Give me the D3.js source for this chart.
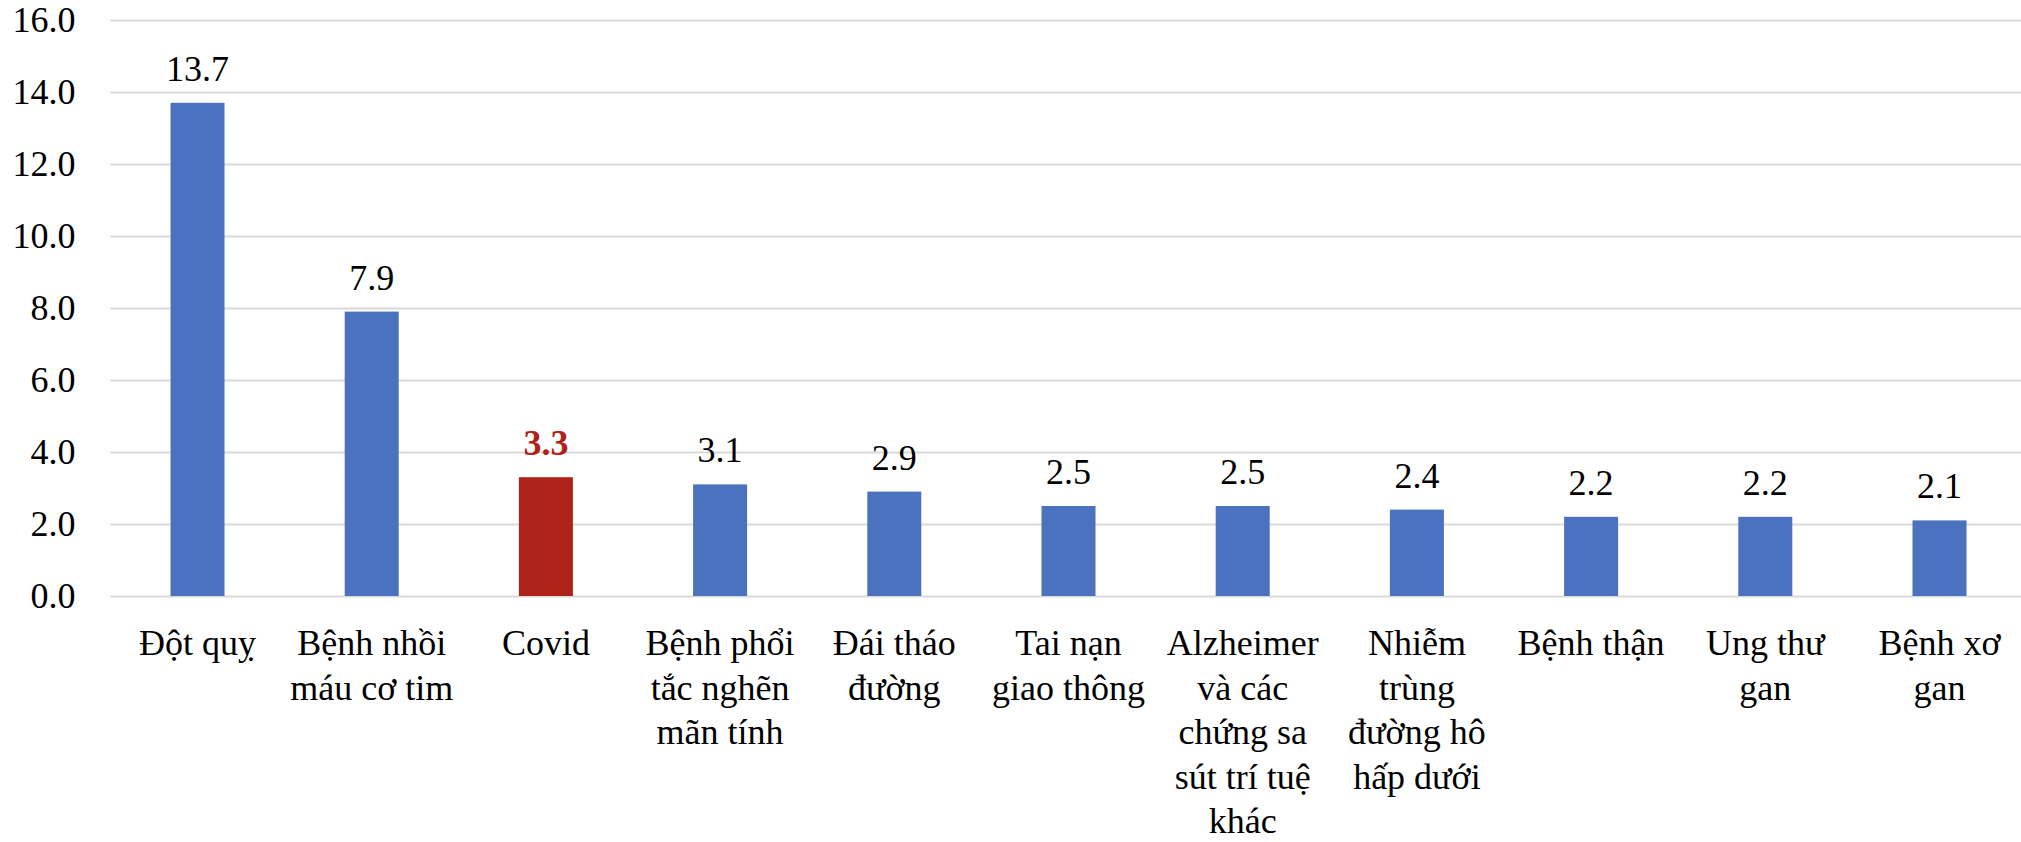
<!DOCTYPE html>
<html>
<head>
<meta charset="utf-8">
<script src="https://cdn.jsdelivr.net/npm/d3@7"></script>
<style>
  body { margin: 0; background: #fff; }
  svg text { font-family: "Liberation Serif", "DejaVu Serif", serif; }
</style>
</head>
<body>
<div id="chart-area"></div>
<script>
// categories, each as the wrapped lines shown under the axis
let categories = [
    ["Đột quỵ"],
    ["Bệnh nhồi", "máu cơ tim"],
    ["Covid"],
    ["Bệnh phổi", "tắc nghẽn", "mãn tính"],
    ["Đái tháo", "đường"],
    ["Tai nạn", "giao thông"],
    ["Alzheimer", "và các", "chứng sa", "sút trí tuệ", "khác"],
    ["Nhiễm", "trùng", "đường hô", "hấp dưới"],
    ["Bệnh thận"],
    ["Ung thư", "gan"],
    ["Bệnh xơ", "gan"]
];
let values = [13.7, 7.9, 3.3, 3.1, 2.9, 2.5, 2.5, 2.4, 2.2, 2.2, 2.1];
let yTicks = [0, 2, 4, 6, 8, 10, 12, 14, 16];
let highlight = "Covid";

let width = 2021, height = 842;
let plot = {left: 110.4, right: 2026.6, top: 20, bottom: 596};

var svg = d3.select('#chart-area')
    .append('svg')
    .attr('width', width)
    .attr('height', height);

var data = categories.map(function(c, i) {
    return {key: c.join(' '), lines: c, value: values[i]};
});

var x = d3.scaleBand()
    .domain(data.map(function(d) { return d.key; }))
    .range([plot.left, plot.right])
    .paddingInner(0.69)
    .paddingOuter(0.345);

var y = d3.scaleLinear()
    .domain([0, 16])
    .range([plot.bottom, plot.top]);

// gridlines + y labels
var yAxisCall = d3.axisLeft(y)
    .tickValues(yTicks)
    .tickSize(-(plot.right - plot.left))
    .tickPadding(35)
    .tickFormat(function(d) { return d.toFixed(1); });

var yAxis = svg.append('g')
    .attr('class', 'y axis')
    .attr('transform', 'translate(' + plot.left + ', 0)')
    .call(yAxisCall);
yAxis.select('.domain').remove();
yAxis.selectAll('line')
    .attr('stroke', '#d9d9d9')
    .attr('stroke-width', 2);
yAxis.selectAll('text')
    .attr('font-size', '36px')
    .attr('fill', '#000')
    .attr('font-family', '"Liberation Serif", serif');

// bars
svg.selectAll('rect.bar')
    .data(data)
    .enter()
    .append('rect')
    .attr('class', 'bar')
    .attr('x', function(d) { return x(d.key); })
    .attr('y', function(d) { return y(d.value); })
    .attr('width', x.bandwidth())
    .attr('height', function(d) { return y(0) - y(d.value); })
    .attr('fill', function(d) {
        return d.key === highlight ? '#ae2319' : '#4a72bf';
    });

// value labels
svg.selectAll('text.value')
    .data(data)
    .enter()
    .append('text')
    .attr('class', 'value')
    .attr('x', function(d) { return x(d.key) + x.bandwidth() / 2; })
    .attr('y', function(d) { return y(d.value) - 22; })
    .attr('text-anchor', 'middle')
    .attr('font-size', '36px')
    .attr('font-weight', function(d) { return d.key === highlight ? 'bold' : 'normal'; })
    .attr('fill', function(d) { return d.key === highlight ? '#ae2319' : '#000'; })
    .text(function(d) { return d.value.toFixed(1); });

// category labels
var cat = svg.selectAll('text.cat')
    .data(data)
    .enter()
    .append('text')
    .attr('class', 'cat')
    .attr('text-anchor', 'middle')
    .attr('font-size', '36px')
    .attr('fill', '#000');

cat.selectAll('tspan')
    .data(function(d) {
        return d.lines.map(function(l) { return {key: d.key, line: l}; });
    })
    .enter()
    .append('tspan')
    .attr('x', function(d) { return x(d.key) + x.bandwidth() / 2; })
    .attr('y', function(d, i) { return 655 + i * 44.5; })
    .text(function(d) { return d.line; });
</script>
</body>
</html>
